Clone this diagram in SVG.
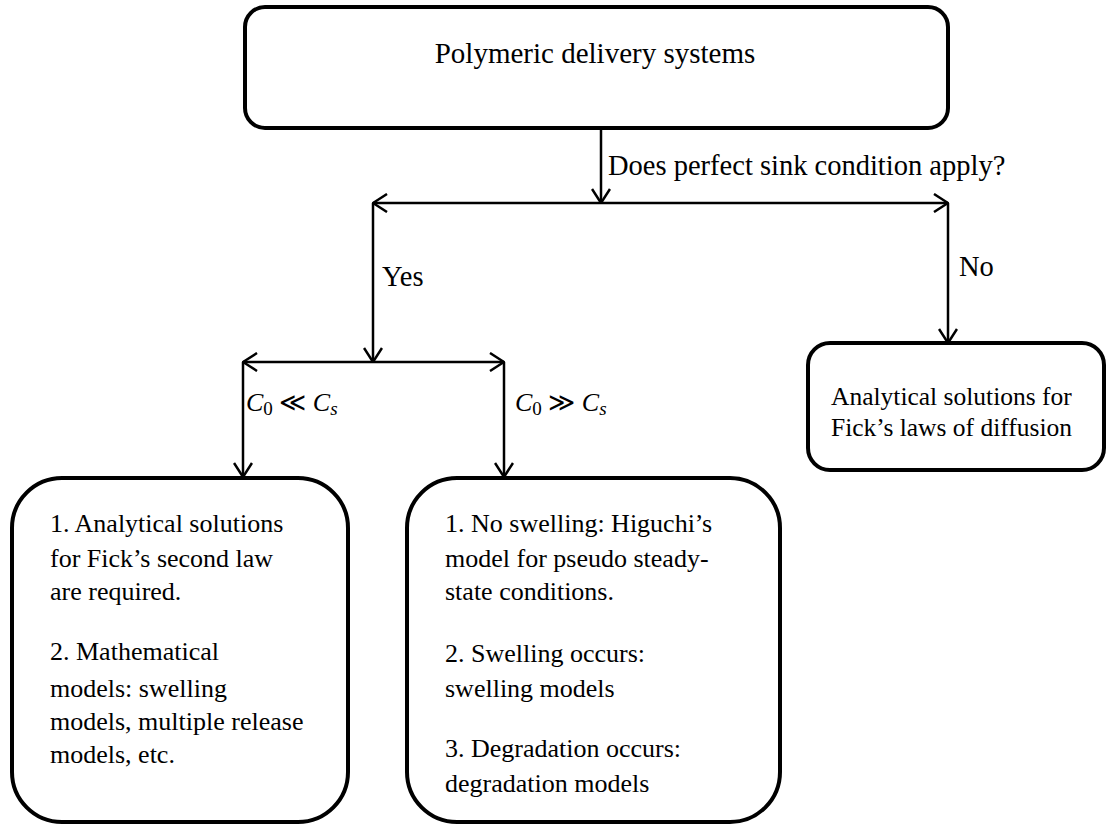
<svg xmlns="http://www.w3.org/2000/svg" width="1107" height="825" viewBox="0 0 1107 825">
<style>
.box{fill:#fff;stroke:#000;stroke-width:4}
.t{font-family:"Liberation Serif","Times New Roman",serif;fill:#000}
.c{fill:none;stroke:#000;stroke-width:2.5}
.m{font-family:"Liberation Serif","DejaVu Serif",serif;font-size:26px;fill:#000}
.i{font-style:italic}
</style>
<defs>
<marker id="ah" viewBox="0 0 16 20" refX="15" refY="10" markerUnits="userSpaceOnUse" markerWidth="16" markerHeight="20" orient="auto-start-reverse">
<path d="M1,1 L15,10 L1,19" fill="none" stroke="#000" stroke-width="2.5"/>
</marker>
</defs>
<rect width="1107" height="825" fill="#fff"/>
<g id="connectors">
<path class="c" d="M601,128 L601,203" marker-end="url(#ah)"/>
<path class="c" d="M373,203 L948,203" marker-start="url(#ah)" marker-end="url(#ah)"/>
<path class="c" d="M373,203 L373,362" marker-end="url(#ah)"/>
<path class="c" d="M948,203 L948,343" marker-end="url(#ah)"/>
<path class="c" d="M243,362 L504,362" marker-start="url(#ah)" marker-end="url(#ah)"/>
<path class="c" d="M243,362 L243,477" marker-end="url(#ah)"/>
<path class="c" d="M504,362 L504,477" marker-end="url(#ah)"/>
<text class="t" x="608" y="175" font-size="28.5">Does perfect sink condition apply?</text>
<text class="t" x="382" y="286" font-size="28.5">Yes</text>
<text class="t" x="959" y="276" font-size="28.5">No</text>
<text class="m" x="246" y="411"><tspan class="i">C</tspan><tspan font-size="19" dy="4">0</tspan><tspan dy="-4"> ≪ </tspan><tspan class="i">C</tspan><tspan class="i" font-size="19" dy="4">s</tspan></text>
<text class="m" x="515" y="411"><tspan class="i">C</tspan><tspan font-size="19" dy="4">0</tspan><tspan dy="-4"> ≫ </tspan><tspan class="i">C</tspan><tspan class="i" font-size="19" dy="4">s</tspan></text>
</g>
<g id="node-top">
<rect class="box" x="245" y="7" width="703" height="121" rx="20"/>
<text class="t" x="595" y="63" font-size="29" text-anchor="middle">Polymeric delivery systems</text>
</g>
<g id="node-right">
<rect class="box" x="808" y="343" width="296" height="127" rx="22"/>
<text class="t" font-size="25.5"><tspan x="831" y="405">Analytical solutions for</tspan><tspan x="831" y="436">Fick’s laws of diffusion</tspan></text>
</g>
<g id="node-left">
<rect class="box" x="12" y="478" width="336" height="344" rx="50"/>
<text class="t" font-size="26"><tspan x="50" y="532">1. Analytical solutions</tspan><tspan x="50" y="567">for Fick’s second law</tspan><tspan x="50" y="600">are required.</tspan><tspan x="50" y="660">2. Mathematical</tspan><tspan x="50" y="697">models: swelling</tspan><tspan x="50" y="730">models, multiple release</tspan><tspan x="50" y="763">models, etc.</tspan></text>
</g>
<g id="node-middle">
<rect class="box" x="407" y="478" width="373" height="344" rx="50"/>
<text class="t" font-size="26"><tspan x="445" y="532">1. No swelling: Higuchi’s</tspan><tspan x="445" y="567">model for pseudo steady-</tspan><tspan x="445" y="600">state conditions.</tspan><tspan x="445" y="662">2. Swelling occurs:</tspan><tspan x="445" y="697">swelling models</tspan><tspan x="445" y="757">3. Degradation occurs:</tspan><tspan x="445" y="792">degradation models</tspan></text>
</g>
</svg>
